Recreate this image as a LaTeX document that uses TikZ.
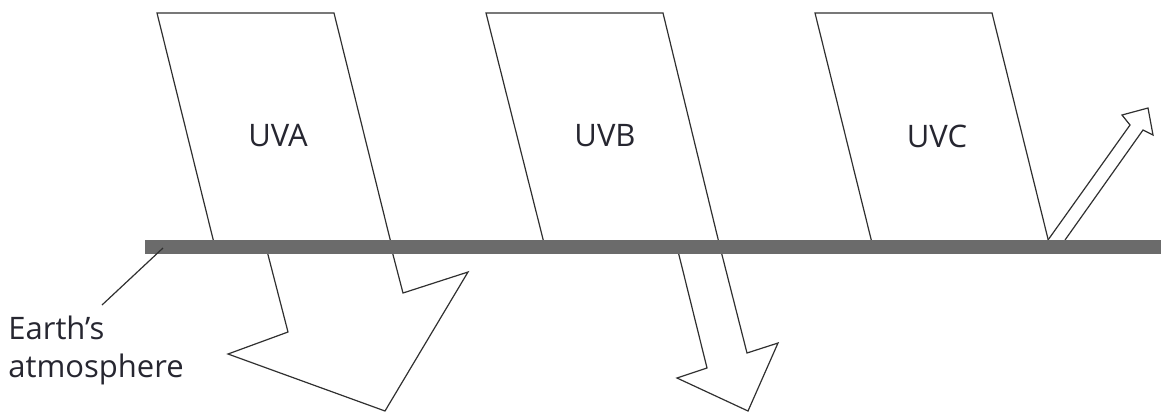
\documentclass[tikz,border=0pt]{standalone}
\usepackage{fontspec}
\setmainfont{Open Sans}
\usetikzlibrary{positioning}

\definecolor{barGray}{HTML}{6B6B6B}
\definecolor{lineGray}{HTML}{303030}
\definecolor{textGray}{HTML}{262630}

\tikzset{
  beam/.style={draw=lineGray,line width=0.6pt,fill=white,line join=miter},
  band/.style={fill=barGray},
  rayLabel/.style={font=\fontsize{15.5}{18}\selectfont,text=textGray,inner sep=0pt},
  atmLabel/.style={font=\fontsize{15.5}{19}\selectfont,text=textGray,inner sep=0pt,align=left},
  leader/.style={draw=lineGray,line width=0.6pt}
}

\begin{document}
\begin{tikzpicture}[x=0.5pt,y=-0.5pt]
    \useasboundingbox (0,0) rectangle (1161,414);

    % incoming rays above the atmosphere
    \draw[beam] (157,13) -- (334,13) -- (392,247) -- (215,247) -- cycle;
    \draw[beam] (486,13) -- (663,13) -- (720,247) -- (545,247) -- cycle;
    \draw[beam] (815,13) -- (992,13) -- (1050,247) -- (873,247) -- cycle;

    % what passes or is reflected
    \draw[beam] (266,247) -- (288,332) -- (228,354) -- (385,411)
                -- (468,272) -- (403,293) -- (391,247);
    \draw[beam] (677,247) -- (707,368) -- (677,378) -- (748,411)
                -- (778,343) -- (747,353) -- (720,247);
    \draw[beam] (1048,240) -- (1130,125) -- (1122,115) -- (1148,108)
                -- (1153,135) -- (1143,130) -- (1065,240);

    % the atmosphere
    \fill[band] (145,240) rectangle (1161,254);

    \node[rayLabel] (uva) at (278,136) {UVA};
    \node[rayLabel] (uvb) at (605,136) {UVB};
    \node[rayLabel] (uvc) at (937,136) {UVC};

    \node[atmLabel,anchor=north west] (earth) at (8,316) {Earth’s\\atmosphere};
    \coordinate (atm) at (163,248);
    \coordinate (lead) at (102,305);
    \draw[leader] (lead) -- (atm);
\end{tikzpicture}
\end{document}
